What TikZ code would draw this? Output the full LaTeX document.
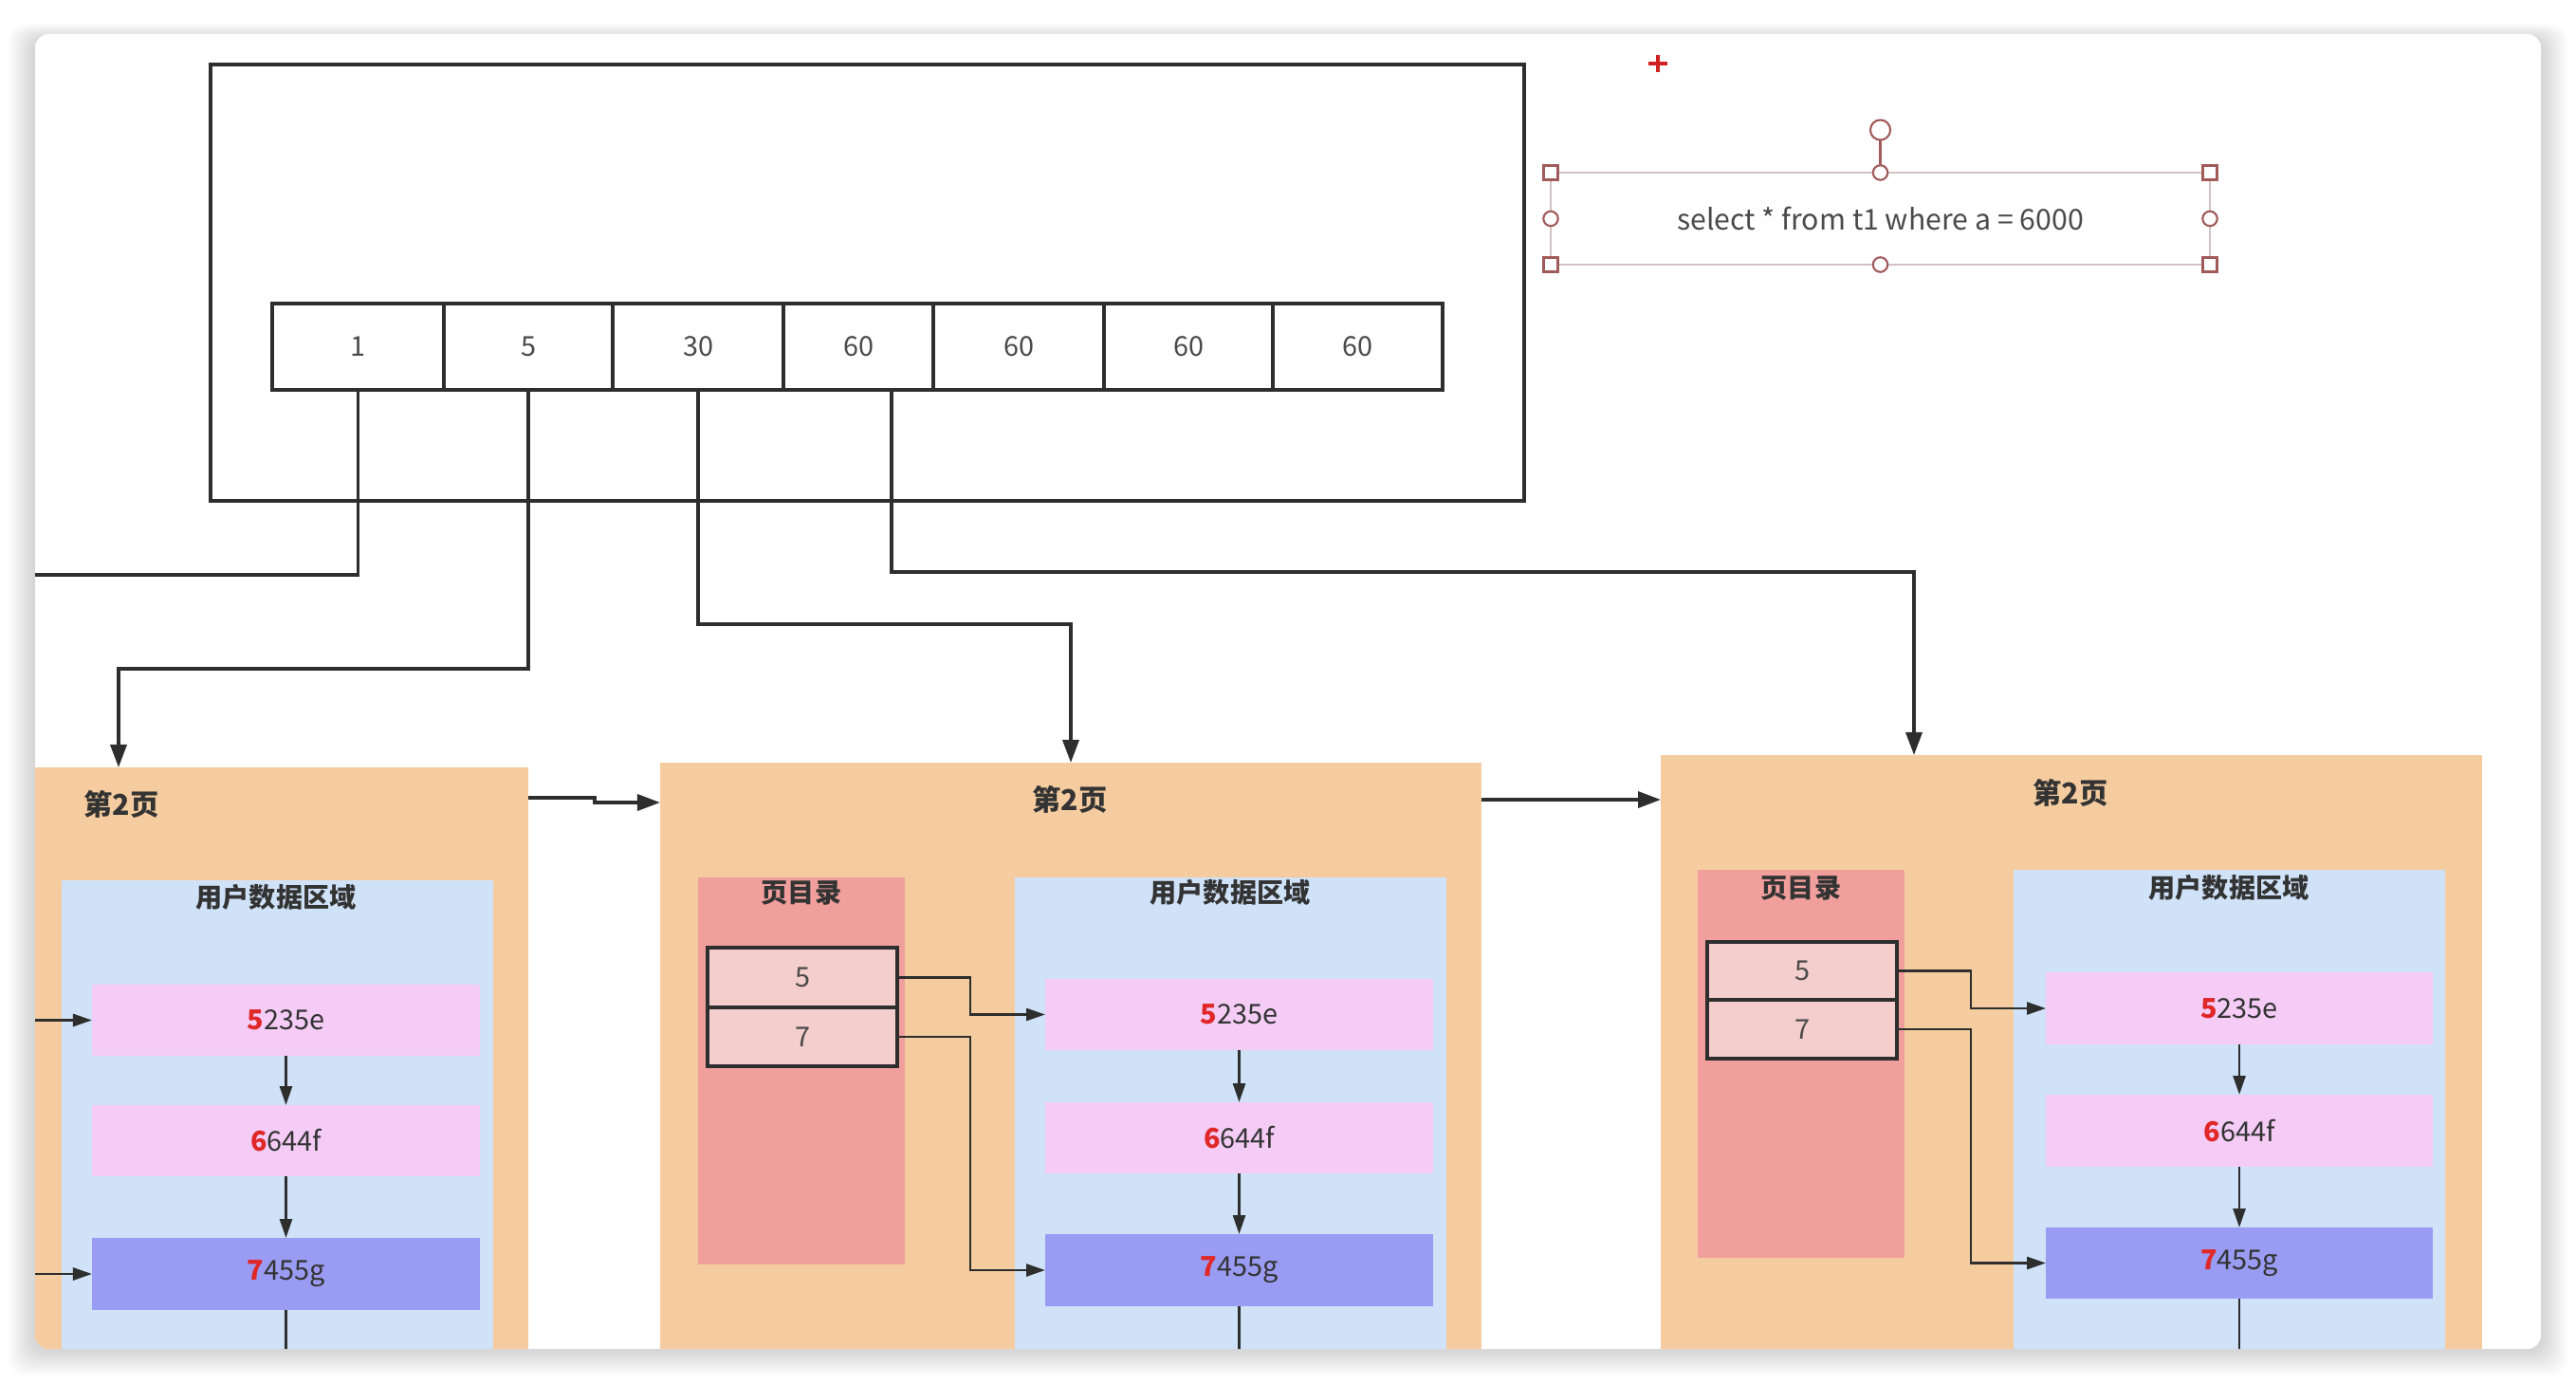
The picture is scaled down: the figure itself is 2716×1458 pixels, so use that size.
\documentclass[tikz,border=0pt]{standalone}
\usepackage{fontspec}
\setmainfont{Noto Sans CJK SC}
\usetikzlibrary{arrows.meta,fit,calc}
\definecolor{linec}{HTML}{2E2E2E}
\definecolor{txtc}{HTML}{333333}
\definecolor{celltxt}{HTML}{4A4A4A}
\definecolor{pagec}{HTML}{F5CC9F}
\definecolor{bluec}{HTML}{CFE2F8}
\definecolor{pinkc}{HTML}{F4CCF6}
\definecolor{purplec}{HTML}{9A9BF2}
\definecolor{dirc}{HTML}{F09F9C}
\definecolor{entryc}{HTML}{F4CDCD}
\definecolor{numred}{HTML}{E02828}
\definecolor{qline}{HTML}{D2C2C2}
\definecolor{handc}{HTML}{A05A5A}
\definecolor{plusc}{HTML}{D02020}
\newcommand\recl[2]{\textcolor{numred}{\bfseries #1}#2}
\begin{document}
\begin{tikzpicture}[x=0.01cm,y=-0.01cm,
  box/.style={inner sep=0pt, outer sep=0pt},
  frame/.style={box, draw=linec, line width=1.3pt},
  smalltxt/.style={inner sep=0pt, font=\fontsize{8.2}{10}\selectfont, text=celltxt},
  rectxt/.style={inner sep=0pt, font=\fontsize{8.2}{10}\selectfont, text=txtc},
  cell/.style={box, draw=linec, line width=1.2pt, label={[smalltxt]center:#1}},
  conn/.style={draw=linec, line width=1pt},
  bigarr/.style={conn, -{Triangle[length=0.24cm,width=0.17cm]}},
  smallarr/.style={draw=linec, line width=0.8pt, -{Triangle[length=0.2cm,width=0.13cm]}},
  page/.style={box, fill=pagec},
  area/.style={box, fill=bluec},
  dirbox/.style={box, fill=dirc},
  entry/.style={box, draw=linec, line width=0.9pt, fill=entryc, label={[smalltxt]center:#1}},
  rec/.style={box, fill=pinkc, label={[rectxt]center:#1}},
  recsel/.style={box, fill=purplec, label={[rectxt]center:#1}},
  title/.style={font=\fontsize{8.6}{10}\selectfont\bfseries, text=txtc, inner sep=0pt},
  sub/.style={font=\fontsize{8}{10}\selectfont\bfseries, text=txtc, inner sep=0pt},
  handle/.style={draw=handc, line width=0.6pt, fill=white},
]
\useasboundingbox (0,0) rectangle (2716,1458);
% window background and shadow
\fill[white] (0,0) rectangle (2716,1458);
\foreach \i in {1,...,14} {
  \fill[black, opacity=0.012, rounded corners=5pt] ({37-2*\i},{36-1.2*\i+6}) rectangle ({2679+2*\i},{1422+2*\i});
}
\fill[white, rounded corners=4pt] (37,36) rectangle (2679,1422);

\begin{scope}
\clip[rounded corners=4pt] (37,36) rectangle (2679,1422);

% top frame and array
\node[frame, fit={(222,68)(1607,528)}] (frame) {};
\node[cell=1, fit={(287,320)(468,411)}] (c1) {};
\node[cell=5, fit={(468,320)(646,411)}] (c2) {};
\node[cell=30, fit={(646,320)(826,411)}] (c3) {};
\node[cell=60, fit={(826,320)(984,411)}] (c4) {};
\node[cell=60, fit={(984,320)(1164,411)}] (c5) {};
\node[cell=60, fit={(1164,320)(1342,411)}] (c6) {};
\node[cell=60, fit={(1342,320)(1521,411)}] (c7) {};

% query text box (selected)
\node[box, fit={(1635,182)(2330,279)}, draw=qline, line width=0.7pt,
      label={[inner sep=0pt, font=\fontsize{8.6}{10}\selectfont, text=celltxt]center:select * from t1 where a = 6000}] (query) {};
\coordinate (rot) at ($(query.north)+(0,-45)$);
\draw[draw=handc, line width=0.6pt] (query.north) -- ($(rot)+(0,10)$);
\draw[handle] (rot) circle[radius=3pt];
\foreach \a in {north west, north east, south west, south east}
  \draw[handle] ($(query.\a)+(-7.5,-7.5)$) rectangle ++(15,15);
\foreach \a in {north, south, west, east}
  \draw[handle] (query.\a) circle[radius=2.2pt];
\draw[plusc, line width=1.3pt] (1738,67) -- (1758,67) (1748,58) -- (1748,76);

% pages
\node[page, fit={(20,809)(557,1500)}] (p1) {};
\node[page, fit={(696,804)(1562,1500)}] (p2) {};
\node[page, fit={(1751,796)(2617,1500)}] (p3) {};

\node[title, anchor=west] (t1) at (88,848) {第2页};
\node[title] (t2) at (1128,843) {第2页};
\node[title] (t3) at (2183,836) {第2页};

% page 1
\node[area, fit={(65,928)(520,1500)}] (a1) {};
\node[sub] (s1) at (291,946) {用户数据区域};
\node[rec={\recl{5}{235e}}, fit={(97,1038)(506,1113)}] (q1) {};
\node[rec={\recl{6}{644f}}, fit={(97,1165)(506,1240)}] (q2) {};
\node[recsel={\recl{7}{455g}}, fit={(97,1305)(506,1381)}] (q3) {};

% page 2
\node[dirbox, fit={(736,925)(954,1333)}] (d2) {};
\node[sub] (dl2) at (845,941) {页目录};
\node[entry=5, fit={(746,999)(946,1062)}] (e21) {};
\node[entry=7, fit={(746,1062)(946,1124)}] (e22) {};
\node[area, fit={(1070,925)(1525,1500)}] (a2) {};
\node[sub] (s2) at (1297,941) {用户数据区域};
\node[rec={\recl{5}{235e}}, fit={(1102,1032)(1511,1107)}] (r21) {};
\node[rec={\recl{6}{644f}}, fit={(1102,1162)(1511,1237)}] (r22) {};
\node[recsel={\recl{7}{455g}}, fit={(1102,1301)(1511,1377)}] (r23) {};

% page 3
\node[dirbox, fit={(1790,917)(2008,1326)}] (d3) {};
\node[sub] (dl3) at (1899,936) {页目录};
\node[entry=5, fit={(1800,993)(2000,1054)}] (e31) {};
\node[entry=7, fit={(1800,1054)(2000,1116)}] (e32) {};
\node[area, fit={(2123,917)(2578,1500)}] (a3) {};
\node[sub] (s3) at (2350,936) {用户数据区域};
\node[rec={\recl{5}{235e}}, fit={(2157,1025)(2565,1101)}] (r31) {};
\node[rec={\recl{6}{644f}}, fit={(2157,1154)(2565,1230)}] (r32) {};
\node[recsel={\recl{7}{455g}}, fit={(2157,1294)(2565,1369)}] (r33) {};

% connectors from the array
\coordinate (k1) at (20,606);
\coordinate (k2) at (125,705);
\coordinate (k3) at (1129,658);
\coordinate (k4) at (2018,603);
\draw[conn] (c1.south) |- (k1);
\draw[bigarr] (c2.south) |- (k2) -- (k2 |- p1.north);
\draw[bigarr] (c3.south) |- (k3) -- (k3 |- p2.north);
\draw[bigarr] ($(c4.south)+(35,0)$) |- (k4) -- (k4 |- p3.north);

% page to page
\coordinate (j1) at (627,841);
\coordinate (j2) at (627,846);
\coordinate (j3) at (0,843);
\draw[bigarr] (p1.east |- j1) -- (j1) -- (j2) -- (p2.west |- j2);
\draw[bigarr] (p2.east |- j3) -- (p3.west |- j3);

% page 1 records
\coordinate (lx) at (20,0);
\coordinate (bt) at (0,1450);
\draw[smallarr] (lx |- q1.west) -- (q1.west);
\draw[smallarr] (lx |- q3.west) -- (q3.west);
\draw[smallarr] (q1.south) -- (q2.north);
\draw[smallarr] (q2.south) -- (q3.north);
\draw[conn, line width=0.8pt] (q3.south) -- (q3.south |- bt);

% page 2 records
\draw[smallarr] (e21.east) -- ++(77,0) |- (r21.west);
\draw[smallarr] (e22.east) -- ++(77,0) |- (r23.west);
\draw[smallarr] (r21.south) -- (r22.north);
\draw[smallarr] (r22.south) -- (r23.north);
\draw[conn, line width=0.8pt] (r23.south) -- (r23.south |- bt);

% page 3 records
\draw[smallarr] (e31.east) -- ++(78,0) |- (r31.west);
\draw[smallarr] (e32.east) -- ++(78,0) |- (r33.west);
\draw[smallarr] (r31.south) -- (r32.north);
\draw[smallarr] (r32.south) -- (r33.north);
\draw[conn, line width=0.8pt] (r33.south) -- (r33.south |- bt);
\end{scope}
\end{tikzpicture}
\end{document}
